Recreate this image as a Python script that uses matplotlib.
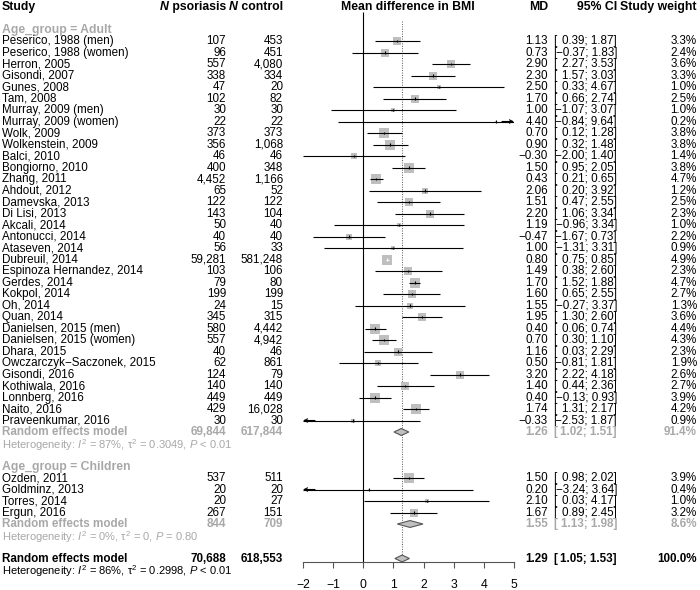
import numpy as np
import matplotlib
matplotlib.use("Agg")
import matplotlib.pyplot as plt
import matplotlib.transforms as mtransforms

plt.rcParams['font.family'] = ['Liberation Sans', 'DejaVu Sans']
plt.rcParams['mathtext.fontset'] = 'custom'
plt.rcParams['mathtext.rm'] = 'Liberation Sans'
plt.rcParams['mathtext.it'] = 'Liberation Sans:italic'
plt.rcParams['mathtext.bf'] = 'Liberation Sans:bold'

# ---- data ----
adult_study = ["Peserico, 1988 (men)", "Peserico, 1988 (women)", "Herron, 2005", "Gisondi, 2007",
               "Gunes, 2008", "Tam, 2008", "Murray, 2009 (men)", "Murray, 2009 (women)", "Wolk, 2009",
               "Wolkenstein, 2009", "Balci, 2010", "Bongiorno, 2010", "Zhang, 2011", "Ahdout, 2012",
               "Damevska, 2013", "Di Lisi, 2013", "Akcali, 2014", "Antonucci, 2014", "Ataseven, 2014",
               "Dubreuil, 2014", "Espinoza Hernandez, 2014", "Gerdes, 2014", "Kokpol, 2014", "Oh, 2014",
               "Quan, 2014", "Danielsen, 2015 (men)", "Danielsen, 2015 (women)", "Dhara, 2015",
               "Owczarczyk\u2212Saczonek, 2015", "Gisondi, 2016", "Kothiwala, 2016", "Lonnberg, 2016",
               "Naito, 2016", "Praveenkumar, 2016"]
adult_npso = [107, 96, 557, 338, 47, 102, 30, 22, 373, 356, 46, 400, 4452, 65, 122, 143, 50, 40, 56,
              59281, 103, 79, 199, 24, 345, 580, 557, 40, 62, 124, 140, 449, 429, 30]
adult_nctl = [453, 451, 4080, 334, 20, 82, 30, 22, 373, 1068, 46, 348, 1166, 52, 122, 104, 40, 40, 33,
              581248, 106, 80, 199, 15, 315, 4442, 4942, 46, 861, 79, 140, 449, 16028, 30]
adult_md = [1.13, 0.73, 2.90, 2.30, 2.50, 1.70, 1.00, 4.40, 0.70, 0.90, -0.30, 1.50, 0.43, 2.06,
            1.51, 2.20, 1.19, -0.47, 1.00, 0.80, 1.49, 1.70, 1.60, 1.55, 1.95, 0.40, 0.70, 1.16,
            0.50, 3.20, 1.40, 0.40, 1.74, -0.33]
adult_lo = [0.39, -0.37, 2.27, 1.57, 0.33, 0.66, -1.07, -0.84, 0.12, 0.32, -2.00, 0.95, 0.21, 0.20,
            0.47, 1.06, -0.96, -1.67, -1.31, 0.75, 0.38, 1.52, 0.65, -0.27, 1.30, 0.06, 0.30, 0.03,
            -0.81, 2.22, 0.44, -0.13, 1.31, -2.53]
adult_hi = [1.87, 1.83, 3.53, 3.03, 4.67, 2.74, 3.07, 9.64, 1.28, 1.48, 1.40, 2.05, 0.65, 3.92,
            2.55, 3.34, 3.34, 0.73, 3.31, 0.85, 2.60, 1.88, 2.55, 3.37, 2.60, 0.74, 1.10, 2.29,
            1.81, 4.18, 2.36, 0.93, 2.17, 1.87]
adult_w = [3.3, 2.4, 3.6, 3.3, 1.0, 2.5, 1.0, 0.2, 3.8, 3.8, 1.4, 3.8, 4.7, 1.2, 2.5, 2.3, 1.0, 2.2,
           0.9, 4.9, 2.3, 4.7, 2.7, 1.3, 3.6, 4.4, 4.3, 2.3, 1.9, 2.6, 2.7, 3.9, 4.2, 0.9]

child_study = ["Ozden, 2011", "Goldminz, 2013", "Torres, 2014", "Ergun, 2016"]
child_npso = [537, 20, 20, 267]
child_nctl = [511, 20, 27, 151]
child_md = [1.50, 0.20, 2.10, 1.67]
child_lo = [0.98, -3.24, 0.03, 0.89]
child_hi = [2.02, 3.64, 4.17, 2.45]
child_w = [3.9, 0.4, 1.0, 3.2]

# pooled: npso, nctl, md, lo, hi, weight
adult_re = [69844, 617844, 1.26, 1.02, 1.51, 91.4]
child_re = [844, 709, 1.55, 1.13, 1.98, 8.6]
total_re = [70688, 618553, 1.29, 1.05, 1.53, 100.0]
adult_het = r"Heterogeneity: $I^2$ = 87%, τ$^2$ = 0.3049, $P$ < 0.01"
child_het = r"Heterogeneity: $I^2$ = 0%, τ$^2$ = 0, $P$ = 0.80"
total_het = r"Heterogeneity: $I^2$ = 86%, τ$^2$ = 0.2998, $P$ < 0.01"

xticks = [-2, -1, 0, 1, 2, 3, 4, 5]

# ---- layout ----
W, H = 700, 590
rowpx = 11.5
toppx = 12.25
axis_px = 562
gray = '#a8a8a8'
fs = 8.4
fs_het = 8.0

fig = plt.figure(figsize=(W / 100, H / 100), dpi=100)
ax = fig.add_axes([303 / W, (H - axis_px) / H, 211 / W, axis_px / H])
ax.set_xlim(xticks[0], xticks[-1])
ax.set_ylim((axis_px - toppx) / rowpx, -toppx / rowpx)
for s in ['top', 'right', 'left']:
    ax.spines[s].set_visible(False)
ax.spines['bottom'].set_color('#555555')
ax.set_yticks([])
ax.set_xticks(xticks)
ax.tick_params(axis='x', length=4, width=0.8, color='#555555', labelsize=fs + 0.4, pad=8)

tr = mtransforms.blended_transform_factory(fig.transFigure, ax.transData)
pxu = 211 / (xticks[-1] - xticks[0])  # pixels per unit


def fmt_n(n):
    return f"{n:,}"


def fmt(v):
    return f"{v:.2f}".replace('-', '\u2212')


def row_text(y, name, npso, nctl, md, lo, hi, w, color='black', weight='normal'):
    kw = dict(transform=tr, va='center', fontsize=fs, color=color, fontweight=weight)
    fig.text(2 / W, y, name, ha='left', **kw)
    fig.text(226 / W, y, fmt_n(npso), ha='right', **kw)
    fig.text(283 / W, y, fmt_n(nctl), ha='right', **kw)
    fig.text(548 / W, y, fmt(md), ha='right', **kw)
    fig.text(553 / W, y, "[", ha='left', **kw)
    fig.text(617 / W, y, fmt(lo) + "; " + fmt(hi) + "]", ha='right', **kw)
    fig.text(697 / W, y, f"{w:.1f}%", ha='right', **kw)


def het_text(y, s, color):
    fig.text(2 / W, y + 0.12, s, transform=tr, va='center', fontsize=fs_het, color=color)


def draw_study(y, md, lo, hi, w):
    side = 4.7 * np.sqrt(w)  # pixels
    ax.scatter([md], [y], marker='s', s=(side * 0.72) ** 2, color='#bfbfbf', lw=0, zorder=2)
    half = side / 2 / pxu
    lcol = 'white' if (lo > md - half and hi < md + half) else 'black'
    a, b = max(lo, xticks[0]), min(hi, xticks[-1])
    ax.hlines(y, a, b, color=lcol, lw=0.8, zorder=3)
    ax.vlines(md, y - 0.13, y + 0.13, color=lcol, lw=0.8, zorder=3)
    if lo < xticks[0]:
        ax.annotate('', xy=(xticks[0], y), xytext=(xticks[0] + 0.4, y),
                    arrowprops=dict(arrowstyle='->', lw=0.8, color=lcol, shrinkA=0, shrinkB=0,
                                    mutation_scale=6), zorder=3)
    if hi > xticks[-1]:
        ax.annotate('', xy=(xticks[-1], y), xytext=(xticks[-1] - 0.4, y),
                    arrowprops=dict(arrowstyle='->', lw=0.8, color=lcol, shrinkA=0, shrinkB=0,
                                    mutation_scale=6), zorder=3)


def draw_diamond(y, md, lo, hi):
    h = 0.3
    ax.fill([lo, md, hi, md], [y, y - h, y, y + h], facecolor='#c0c0c0', edgecolor='#555555',
            lw=0.8, zorder=3)


# header
hy = -0.45
hk = dict(transform=tr, va='center', fontsize=fs + 0.4, fontweight='bold')
fig.text(2 / W, hy, "Study", ha='left', **hk)
renderer = fig.canvas.get_renderer()
for xr, lab in [(226, " psoriasis"), (283, " control")]:
    t = fig.text(xr / W, hy, lab, ha='right', **hk)
    bb = t.get_window_extent(renderer)
    fig.text(bb.x0 / W, hy, "N", ha='right', fontstyle='italic', **hk)
fig.text(408 / W, hy, "Mean difference in BMI", ha='center', **hk)
fig.text(548 / W, hy, "MD", ha='right', **hk)
fig.text(617 / W, hy, "95% CI", ha='right', **hk)
fig.text(697 / W, hy, "Study weight", ha='right', **hk)

# adult subgroup
fig.text(2 / W, 1.5, "Age_group = Adult", transform=tr, va='center', fontsize=fs + 0.4,
         fontweight='bold', color=gray)
y = 2.5
for i in range(len(adult_study)):
    row_text(y, adult_study[i], adult_npso[i], adult_nctl[i], adult_md[i], adult_lo[i], adult_hi[i], adult_w[i])
    draw_study(y, adult_md[i], adult_lo[i], adult_hi[i], adult_w[i])
    y += 1
row_text(y, "Random effects model", *adult_re, color=gray, weight='bold')
draw_diamond(y, adult_re[2], adult_re[3], adult_re[4])
y += 1
het_text(y, adult_het, gray)

# children subgroup
y += 2
fig.text(2 / W, y, "Age_group = Children", transform=tr, va='center', fontsize=fs + 0.4,
         fontweight='bold', color=gray)
y += 1
for i in range(len(child_study)):
    row_text(y, child_study[i], child_npso[i], child_nctl[i], child_md[i], child_lo[i], child_hi[i], child_w[i])
    draw_study(y, child_md[i], child_lo[i], child_hi[i], child_w[i])
    y += 1
row_text(y, "Random effects model", *child_re, color=gray, weight='bold')
draw_diamond(y, child_re[2], child_re[3], child_re[4])
y += 1
het_text(y, child_het, gray)

# overall
y += 2
row_text(y, "Random effects model", *total_re, color='black', weight='bold')
draw_diamond(y, total_re[2], total_re[3], total_re[4])
het_text(y + 1, total_het, 'black')

# reference lines
ax.vlines(0, 0.0, ax.get_ylim()[0], color='black', lw=0.8, zorder=1)
ax.vlines(total_re[2], 0.8, y - 0.3, color='#555555', lw=0.7, linestyles=(0, (1, 1.5)), zorder=1)

fig.savefig("out.png", dpi=100)
